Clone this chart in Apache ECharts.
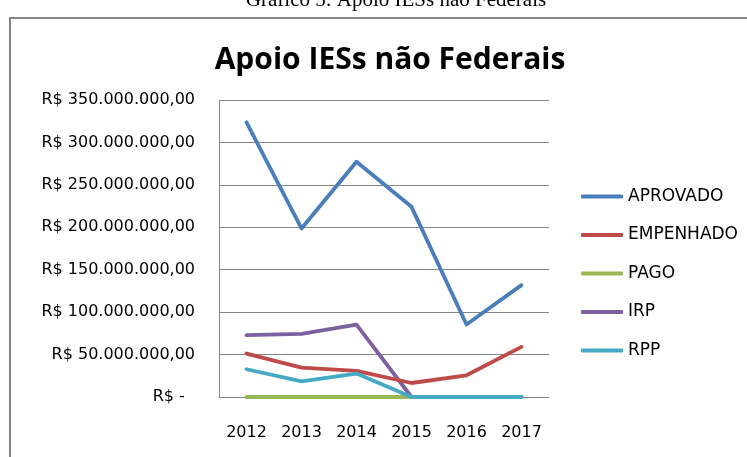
<!DOCTYPE html>
<html>
<head>
<meta charset="utf-8">
<script src="https://cdn.jsdelivr.net/npm/echarts@6/dist/echarts.min.js"></script>
<style>
html,body{margin:0;padding:0;background:#fff;}
#chart{width:747px;height:457px;}
</style>
</head>
<body>
<div id="chart"></div>
<script>
var years      = ['2012','2013','2014','2015','2016','2017'];
var aprovado   = [323700000, 198600000, 277200000, 224100000, 85400000, 131800000];
var empenhado  = [51200000, 34700000, 30700000, 16500000, 25600000, 59000000];
var pago       = [0, 0, 0, 0, 0, 0];
var irp        = [72800000, 74300000, 85400000, 0, 0, 0];
var rpp        = [32700000, 18500000, 27600000, 0, 0, 0];
var yTicks     = ['R$ -  ','R$ 50.000.000,00','R$ 100.000.000,00','R$ 150.000.000,00',
                  'R$ 200.000.000,00','R$ 250.000.000,00','R$ 300.000.000,00','R$ 350.000.000,00'];

var names  = ['APROVADO','EMPENHADO','PAGO','IRP','RPP'];
var colors = ['#4A7EBB','#BE4B48','#98B954','#7D60A0','#46AAC5'];
var datas  = [aprovado, empenhado, pago, irp, rpp];

var font = '"DejaVu Sans", sans-serif';
var series = [];
for(var i=0;i<names.length;i++){
    series.push({
        name:names[i],
        type:'line',
        data:datas[i],
        symbol:'none',
        lineStyle:{width:3.8,color:colors[i],cap:'round',join:'round'},
        itemStyle:{color:colors[i]},
        z:10-i
    });
}
// cyan RPP drawn above green PAGO like in Excel
series[4].z = 11;

var chart = echarts.init(document.getElementById('chart'));
var option = {
    animation:false,
    backgroundColor:'#fff',
    graphic:[
        {type:'rect',shape:{x:10,y:18,width:760,height:460},
         style:{fill:'none',stroke:'#868686',lineWidth:2}},
        {type:'text',x:396,y:-10,
         style:{text:'Gráfico 5: Apoio IESs não Federais',fill:'#000',
                font:'21px "Liberation Serif", serif',textAlign:'center'}}
    ],
    title:{
        text:'Apoio IESs não Federais',
        left:385, top:40, textAlign:'center',
        textStyle:{fontFamily:'"Open Sans", sans-serif',fontWeight:'bold',fontSize:30,color:'#000'}
    },
    legend:{
        orient:'vertical',
        left:576, top:183,
        itemWidth:42, itemHeight:4, itemGap:21.5,
        icon:'roundRect',
        textStyle:{fontFamily:font,fontSize:17,color:'#000'},
        data:names
    },
    grid:{left:219,right:198,top:100,bottom:60},
    xAxis:{
        type:'category',
        data:years,
        boundaryGap:true,
        axisLine:{lineStyle:{color:'#868686',width:1}},
        axisTick:{show:false},
        axisLabel:{fontFamily:font,fontSize:16,color:'#000',margin:28}
    },
    yAxis:{
        type:'value',
        min:0, max:350000000, interval:50000000,
        axisLine:{show:true,lineStyle:{color:'#868686',width:1}},
        axisTick:{show:false},
        splitLine:{lineStyle:{color:'#868686',width:1}},
        axisLabel:{fontFamily:font,fontSize:16,color:'#000',margin:24,
            formatter:function(v){ return yTicks[Math.round(v/50000000)]; }}
    },
    series:series
};
chart.setOption(option);
</script>
</body>
</html>
